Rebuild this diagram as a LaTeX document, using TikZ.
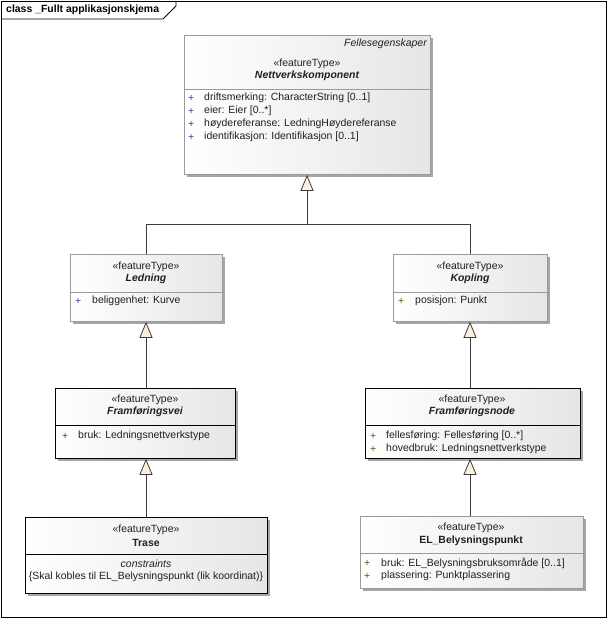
\documentclass[tikz,border=0pt]{standalone}
\usepackage{fontspec}
\setmainfont{Liberation Sans}
\usetikzlibrary{arrows.meta,shadows}
\definecolor{boxgrey}{HTML}{9A9A9A}
\definecolor{boxright}{HTML}{E6E6E6}
\definecolor{tricream}{HTML}{FCEFDC}
\definecolor{linegrey}{HTML}{3C3C3C}
\definecolor{plusblue}{HTML}{2A4A9A}
\definecolor{plusolive}{HTML}{6A5418}
\definecolor{txt}{HTML}{202020}
\tikzset{
  cls/.style={rectangle, anchor=north west, inner sep=0pt, draw=boxgrey, line width=0.8bp,
    left color=white, right color=boxright,
    drop shadow={shadow xshift=3bp, shadow yshift=-3bp, fill=black!35, opacity=1}},
  clsdark/.style={cls, draw=black},
  divider/.style={draw=boxgrey, line width=0.8bp},
  dividerdark/.style={draw=black, line width=0.8bp},
  lbl/.style={inner sep=0pt, font=\fontsize{10.5}{12}\selectfont, text=txt},
  stereo/.style={lbl, anchor=center},
  cname/.style={lbl, anchor=center, font=\fontsize{10.5}{12}\selectfont\bfseries\itshape},
  cnameup/.style={lbl, anchor=center, font=\fontsize{10.5}{12}\selectfont\bfseries},
  attr/.style={lbl, anchor=west},
  plusb/.style={lbl, anchor=west, text=plusblue},
  pluso/.style={lbl, anchor=west, text=plusolive},
  gen/.style={draw=linegrey, line width=0.8bp,
    -{Triangle[length=16bp, width=13bp, fill=tricream]}},
  genline/.style={draw=linegrey, line width=0.8bp},
}
\begin{document}
\begin{tikzpicture}[x=1bp,y=-1bp]
\useasboundingbox (0,0) rectangle (608,619);
% frame
\draw[line width=0.8bp] (1,1) rectangle (606,617);
\draw[line width=0.8bp] (1,19) -- (163,19) -- (176,6) -- (176,1);
\node[lbl, anchor=west, font=\fontsize{10.5}{12}\selectfont\bfseries, text=black] (title) at (6,10) {class \_Fullt applikasjonskjema};

% Nettverkskomponent
\node[cls, minimum width=246bp, minimum height=139bp] (nk) at (184,35) {};
\draw[divider] (184,89) -- (430,89);
\node[lbl, anchor=east, font=\fontsize{10.5}{12}\selectfont\itshape] (nkpkg) at (427,44) {Fellesegenskaper};
\node[stereo] (nks) at (307,64) {«featureType»};
\node[cname] (nkn) at (307,76) {Nettverkskomponent};
\node[plusb] (nkp1) at (188,98) {+};
\node[attr] (nka1) at (204,98) {driftsmerking: CharacterString [0..1]};
\node[plusb] (nkp2) at (188,111) {+};
\node[attr] (nka2) at (204,111) {eier: Eier [0..*]};
\node[plusb] (nkp3) at (188,124) {+};
\node[attr] (nka3) at (204,124) {høydereferanse: LedningHøydereferanse};
\node[plusb] (nkp4) at (188,137) {+};
\node[attr] (nka4) at (204,137) {identifikasjon: Identifikasjon [0..1]};

% Ledning
\node[cls, minimum width=152bp, minimum height=67bp] (led) at (70,254) {};
\draw[divider] (70,292) -- (222,292);
\node[stereo] (leds) at (146,267) {«featureType»};
\node[cname] (ledn) at (146,279) {Ledning};
\node[plusb] (ledp1) at (75,301) {+};
\node[attr] (leda1) at (92,301) {beliggenhet: Kurve};

% Kopling
\node[cls, minimum width=154bp, minimum height=67bp] (kop) at (393,254) {};
\draw[divider] (393,292) -- (547,292);
\node[stereo] (kops) at (470,267) {«featureType»};
\node[cname] (kopn) at (470,279) {Kopling};
\node[pluso] (kopp1) at (398,301) {+};
\node[attr] (kopa1) at (415,301) {posisjon: Punkt};

% Framføringsvei
\node[clsdark, minimum width=180bp, minimum height=70bp] (fv) at (55,388) {};
\draw[dividerdark] (55,425) -- (235,425);
\node[stereo] (fvs) at (145,400) {«featureType»};
\node[cname] (fvn) at (145,412) {Framføringsvei};
\node[plusb] (fvp1) at (62,436) {+};
\node[attr] (fva1) at (78,436) {bruk: Ledningsnettverkstype};

% Framføringsnode
\node[clsdark, minimum width=215bp, minimum height=70bp] (fn) at (365,388) {};
\draw[dividerdark] (365,425) -- (580,425);
\node[stereo] (fns) at (472,400) {«featureType»};
\node[cname] (fnn) at (472,412) {Framføringsnode};
\node[pluso] (fnp1) at (370,436) {+};
\node[attr] (fna1) at (386,436) {fellesføring: Fellesføring [0..*]};
\node[pluso] (fnp2) at (370,449) {+};
\node[attr] (fna2) at (386,449) {hovedbruk: Ledningsnettverkstype};

% Trase
\node[clsdark, minimum width=242bp, minimum height=76bp] (tr) at (25,517) {};
\draw[dividerdark] (25,554) -- (267,554);
\node[stereo] (trs) at (146,530) {«featureType»};
\node[cnameup] (trn) at (146,543) {Trase};
\node[lbl, anchor=center, font=\fontsize{10.5}{12}\selectfont\itshape] (trc) at (146,564) {constraints};
\node[lbl, anchor=center] (trc1) at (146,577) {\{Skal kobles til EL\_Belysningspunkt (lik koordinat)\}};

% EL_Belysningspunkt
\node[cls, minimum width=223bp, minimum height=72bp] (el) at (360,516) {};
\draw[divider] (360,553) -- (583,553);
\node[stereo] (els) at (471,528) {«featureType»};
\node[cnameup] (eln) at (471,541) {EL\_Belysningspunkt};
\node[pluso] (elp1) at (364,563) {+};
\node[attr] (ela1) at (381,563) {bruk: EL\_Belysningsbruksområde [0..1]};
\node[pluso] (elp2) at (364,576) {+};
\node[attr] (ela2) at (381,576) {plassering: Punktplassering};

% generalizations
\coordinate (j) at (307,224);
\draw[genline] (led.north -| 146,0) |- (j);
\draw[genline] (kop.north -| 470,0) |- (j);
\draw[gen] (j) -- (nk.south -| 307,0);
\draw[gen] (fv.north -| 146,0) -- (led.south -| 146,0);
\draw[gen] (fn.north -| 470,0) -- (kop.south -| 470,0);
\draw[gen] (tr.north -| 146,0) -- (fv.south -| 146,0);
\draw[gen] (el.north -| 470,0) -- (fn.south -| 470,0);
\end{tikzpicture}
\end{document}
